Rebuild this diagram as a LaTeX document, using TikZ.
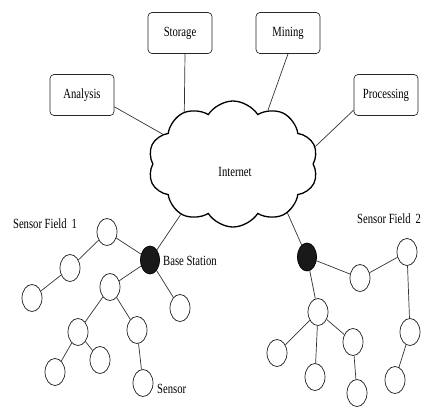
\documentclass[tikz,border=0pt]{standalone}
\usepackage{fontspec}
\setmainfont[FakeStretch=0.76]{Liberation Serif}
\usetikzlibrary{shapes.geometric,shapes.symbols}
\tikzset{
  box/.style={draw=black!85, rounded corners=4pt, line width=0.7pt, minimum width=64pt, minimum height=41pt, inner sep=0pt, font=\fontsize{14}{16}\selectfont},
  sensor/.style={draw=black!90, ellipse, line width=0.7pt, minimum width=20pt, minimum height=27pt, inner sep=0pt},
  base/.style={draw=black, fill=black!90, ellipse, line width=0.7pt, minimum width=19pt, minimum height=28pt, inner sep=0pt},
  link/.style={draw=black!80, line width=0.7pt},
  lbl/.style={font=\fontsize{14}{16}\selectfont, inner sep=0pt},
  inet/.style={draw=black, cloud, cloud puffs=10, cloud puff arc=115, aspect=1.35, minimum width=170pt, minimum height=126pt, inner sep=0pt, line width=1.3pt}
}
\begin{document}
\begin{tikzpicture}[x=1pt,y=-1pt]
\useasboundingbox (0,0) rectangle (425,408);
% cloud
\node[inet] (cloud) at (233,164) {};
\node[lbl] (internet) at (235,172) {Internet};
% boxes
\node[box] (storage) at (180,33) {Storage};
\node[box] (mining) at (288,33) {Mining};
\node[box] (analysis) at (82,95) {Analysis};
\node[box] (processing) at (386,95) {Processing};
\draw[link] (storage.south) ++(5,0) coordinate (s0) -- (cloud.133);
\draw[link] (mining.south) -- (cloud.57);
\draw[link] (analysis.-20) -- (cloud.157);
\draw[link] (processing.205) -- (cloud.12);
% field 1
\node[base] (bs1) at (150,260) {};
\node[sensor] (a) at (107,232) {};
\node[sensor] (b) at (70,268) {};
\node[sensor] (c) at (32,298) {};
\node[sensor] (d) at (110,287) {};
\node[sensor] (e) at (180,308) {};
\node[sensor] (f) at (78,332) {};
\node[sensor] (g) at (137,330) {};
\node[sensor] (h) at (55,372) {};
\node[sensor] (i) at (100,360) {};
\node[sensor] (j) at (143,383) {};
\draw[link] (bs1) -- (cloud.224);
\draw[link] (bs1) -- (a);
\draw[link] (a) -- (b);
\draw[link] (b) -- (c);
\draw[link] (bs1) -- (d);
\draw[link] (bs1) -- (e);
\draw[link] (d) -- (f);
\draw[link] (d) -- (g);
\draw[link] (f) -- (h);
\draw[link] (f) -- (i);
\draw[link] (g) -- (j);
\node[lbl] (sf1) at (45,224) {Sensor Field\, 1};
\node[lbl, anchor=west] (bslbl) at (163,261) {Base Station};
\node[lbl, anchor=west] (senslbl) at (157,389) {Sensor};
% field 2
\node[base] (bs2) at (307,257) {};
\node[sensor] (k) at (360,278) {};
\node[sensor] (l) at (407,252) {};
\node[sensor] (m) at (318,312) {};
\node[sensor] (n) at (410,332) {};
\node[sensor] (o) at (277,353) {};
\node[sensor] (p) at (353,342) {};
\node[sensor] (q) at (315,377) {};
\node[sensor] (r) at (395,380) {};
\node[sensor] (s) at (357,393) {};
\draw[link] (bs2) -- (cloud.-42);
\draw[link] (bs2) -- (k);
\draw[link] (k) -- (l);
\draw[link] (l) -- (n);
\draw[link] (n) -- (r);
\draw[link] (bs2) -- (m);
\draw[link] (m) -- (o);
\draw[link] (m) -- (q);
\draw[link] (m) -- (p);
\draw[link] (p) -- (s);
\node[lbl, anchor=west] (sf2) at (357,219) {Sensor Field\, 2};
\end{tikzpicture}
\end{document}
